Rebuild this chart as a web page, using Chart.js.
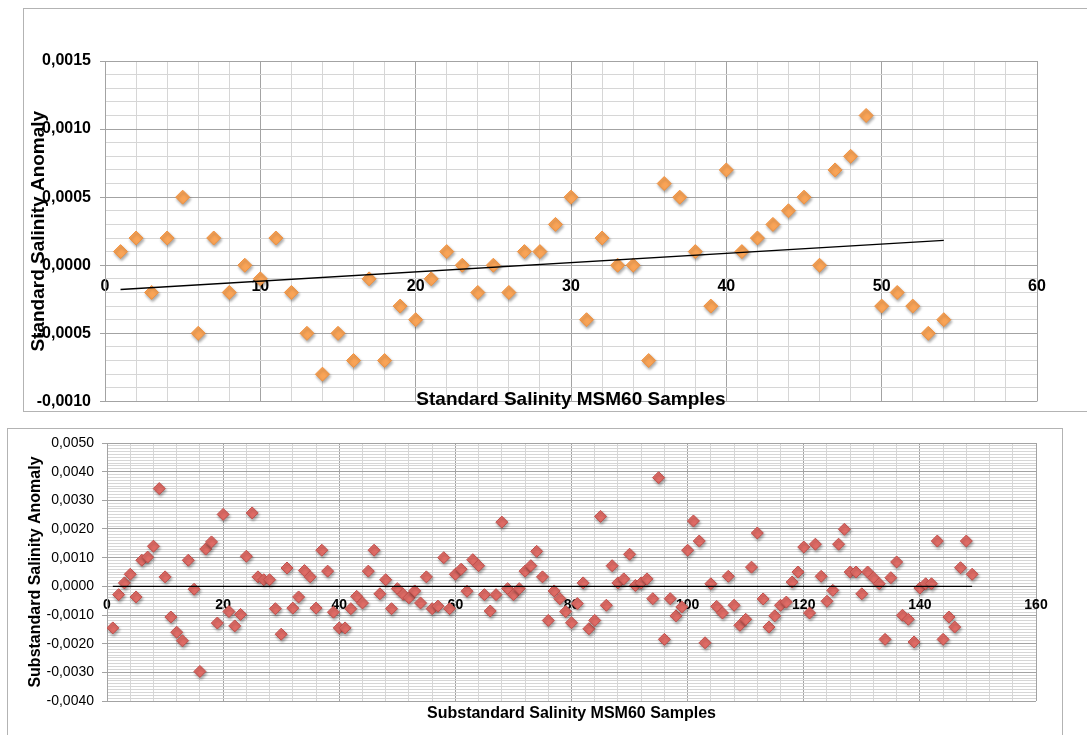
<!DOCTYPE html>
<html>
<head>
<meta charset="utf-8">
<title>MSM60 Salinity Anomaly</title>
<script src="https://cdn.jsdelivr.net/npm/chart.js@4.4.1/dist/chart.umd.min.js"></script>
<style>
  html, body { margin: 0; padding: 0; background: #fff; overflow: hidden; }
  body { width: 1087px; height: 735px; position: relative; }
  .frame { position: absolute; border: 1px solid #b3b3b3; box-sizing: border-box; }
  #frameTop { left: 23px; top: 8px; width: 1100px; height: 404px; }
  #frameBottom { left: 7px; top: 428px; width: 1056px; height: 400px; }
  .box { position: absolute; left: 0; width: 1087px; }
  #boxTop { top: 0; height: 420px; }
  #boxBottom { top: 420px; height: 315px; }
</style>
</head>
<body>
<div class="frame" id="frameTop"></div>
<div class="frame" id="frameBottom"></div>
<div class="box" id="boxTop"><canvas id="stdChart"></canvas></div>
<div class="box" id="boxBottom"><canvas id="subChart"></canvas></div>
<script>
// standard seawater runs, anomaly per sample (sample no. = position + 1)
const stdAnomaly = [
  0.0001, 0.0002, -0.0002, 0.0002, 0.0005, -0.0005, 0.0002, -0.0002, 0.0000, -0.0001,
  0.0002, -0.0002, -0.0005, -0.0008, -0.0005, -0.0007, -0.0001, -0.0007, -0.0003, -0.0004,
  -0.0001, 0.0001, 0.0000, -0.0002, 0.0000, -0.0002, 0.0001, 0.0001, 0.0003, 0.0005,
  -0.0004, 0.0002, 0.0000, 0.0000, -0.0007, 0.0006, 0.0005, 0.0001, -0.0003, 0.0007,
  0.0001, 0.0002, 0.0003, 0.0004, 0.0005, 0.0000, 0.0007, 0.0008, 0.0011, -0.0003,
  -0.0002, -0.0003, -0.0005, -0.0004
];
const stdTrendX = [1, 54];
const stdTrendY = [-0.000178, 0.000183];
const stdYTicks = ["-0,0010", "-0,0005", "0,0000", "0,0005", "0,0010", "0,0015"];
const stdXTicks = [0, 10, 20, 30, 40, 50, 60];

// substandard samples
const subAnomaly = [
  -0.00145, -0.00029, 0.00012, 0.00042, -0.00037, 0.00091, 0.00102, 0.00140, 0.00341, 0.00033,
  -0.00107, -0.00160, -0.00190, 0.00091, -0.00010, -0.00297, 0.00130, 0.00155, -0.00128, 0.00251,
  -0.00088, -0.00138, -0.00098, 0.00105, 0.00256, 0.00033, 0.00023, 0.00023, -0.00078, -0.00167,
  0.00064, -0.00076, -0.00037, 0.00055, 0.00033, -0.00076, 0.00126, 0.00053, -0.00090, -0.00145,
  -0.00145, -0.00078, -0.00035, -0.00058, 0.00053, 0.00126, -0.00026, 0.00023, -0.00078, -0.00008,
  -0.00028, -0.00040, -0.00016, -0.00058, 0.00033, -0.00078, -0.00069, 0.00100, -0.00078, 0.00042,
  0.00060, -0.00017, 0.00093, 0.00072, -0.00029, -0.00086, -0.00029, 0.00224, -0.00008, -0.00029,
  -0.00008, 0.00053, 0.00072, 0.00122, 0.00033, -0.00119, -0.00016, -0.00043, -0.00088, -0.00127,
  -0.00060, 0.00012, -0.00148, -0.00119, 0.00244, -0.00066, 0.00072, 0.00012, 0.00026, 0.00112,
  0.00003, 0.00012, 0.00026, -0.00043, 0.00379, -0.00185, -0.00043, -0.00103, -0.00072, 0.00126,
  0.00228, 0.00158, -0.00197, 0.00009, -0.00070, -0.00093, 0.00035, -0.00066, -0.00136, -0.00115,
  0.00067, 0.00186, -0.00044, -0.00142, -0.00103, -0.00066, -0.00055, 0.00015, 0.00050, 0.00137,
  -0.00093, 0.00147, 0.00035, -0.00052, -0.00014, 0.00147, 0.00199, 0.00050, 0.00050, -0.00026,
  0.00050, 0.00030, 0.00009, -0.00185, 0.00030, 0.00085, -0.00101, -0.00115, -0.00194, -0.00006,
  0.00009, 0.00009, 0.00158, -0.00185, -0.00107, -0.00142, 0.00065, 0.00158, 0.00042
];
const subTrendX = [1, 149];
const subTrendY = [0, 0];
const subYTicks = ["-0,0040", "-0,0030", "-0,0020", "-0,0010", "0,0000", "0,0010", "0,0020", "0,0030", "0,0040", "0,0050"];
const subXTicks = [0, 20, 40, 60, 80, 100, 120, 140, 160];

const FONT = '"Liberation Sans", Arial, Helvetica, sans-serif';
const GRID_MINOR = "#d6d6d6";
const GRID_MAJOR = "#a3a3a3";
Chart.defaults.font.family = FONT;

function commaNum(s) {
  return parseFloat(String(s).replace(",", "."));
}

// returns the printed label for a tick value, "" for the minor grid steps
function labelFor(value, labels) {
  const hit = labels.find(l => Math.abs(commaNum(l) - value) < 1e-9);
  return hit === undefined ? "" : String(hit);
}

const markerShadow = {
  id: "markerShadow",
  beforeDatasetDraw(chart, args) {
    if (args.meta.type === "line") return;
    const ctx = chart.ctx;
    ctx.save();
    ctx.shadowColor = "rgba(0,0,0,0.35)";
    ctx.shadowBlur = 3;
    ctx.shadowOffsetX = 1;
    ctx.shadowOffsetY = 2;
  },
  afterDatasetDraw(chart, args) {
    if (args.meta.type === "line") return;
    chart.ctx.restore();
  }
};

// x title sits inside/below the plot, not under the zero-line axis
const xTitle = {
  id: "xTitle",
  afterDraw(chart, args, opts) {
    const { ctx, chartArea } = chart;
    ctx.save();
    ctx.font = `bold ${opts.size}px ${FONT}`;
    ctx.fillStyle = "#000";
    ctx.textAlign = "center";
    ctx.textBaseline = "middle";
    ctx.fillText(opts.text, (chartArea.left + chartArea.right) / 2, chartArea.bottom + opts.offset);
    ctx.restore();
  }
};

function makeChart(id, s) {
  const ctx = document.getElementById(id).getContext("2d");
  return new Chart(ctx, {
    type: "scatter",
    data: {
      datasets: [
        {
          type: "line",
          data: s.trendX.map((x, i) => ({ x, y: s.trendY[i] })),
          borderColor: "#000",
          borderWidth: 1.3,
          pointRadius: 0,
          showLine: true,
          fill: false,
          tension: 0
        },
        {
          data: s.values.map((y, i) => ({ x: i + 1, y })),
          pointStyle: "rectRot",
          pointRadius: s.radius,
          backgroundColor: s.fill,
          borderColor: s.edge,
          borderWidth: 1
        }
      ]
    },
    options: {
      responsive: true,
      maintainAspectRatio: false,
      animation: false,
      events: [],
      layout: { padding: s.padding },
      plugins: {
        legend: { display: false },
        tooltip: { enabled: false },
        xTitle: { text: s.xTitle, size: s.xTitleSize, offset: s.xTitleOffset }
      },
      scales: {
        x: {
          type: "linear",
          position: { y: 0 },
          min: 0,
          max: s.xMax,
          afterFit: sc => { sc.height = 0; },
          border: { display: false },
          grid: {
            color: c => labelFor(c.tick.value, s.xTicks) !== "" ? GRID_MAJOR : GRID_MINOR,
            drawTicks: false
          },
          ticks: {
            stepSize: s.xStep,
            autoSkip: false,
            maxRotation: 0,
            minRotation: 0,
            padding: s.xTickPad,
            color: "#000",
            font: { size: s.xTickSize, weight: "bold" },
            callback: v => labelFor(v, s.xTicks)
          }
        },
        y: {
          min: s.yMin,
          max: s.yMax,
          afterFit: sc => { sc.width = s.yWidth; },
          border: { color: GRID_MAJOR },
          title: {
            display: true,
            text: s.yTitle,
            color: "#000",
            font: { size: s.yTitleSize, weight: "bold" },
            padding: { top: s.yTitlePad, bottom: 0 }
          },
          grid: {
            color: c => labelFor(c.tick.value, s.yTicks) !== "" ? GRID_MAJOR : GRID_MINOR,
            tickColor: c => labelFor(c.tick.value, s.yTicks) !== "" ? GRID_MAJOR : "rgba(0,0,0,0)",
            tickLength: 5
          },
          ticks: {
            stepSize: 0.0001,
            autoSkip: false,
            padding: s.yTickPad,
            color: "#000",
            font: { size: s.yTickSize, weight: s.yTickWeight },
            callback: v => labelFor(v, s.yTicks)
          }
        }
      }
    },
    plugins: [markerShadow, xTitle]
  });
}

makeChart("stdChart", {
  values: stdAnomaly, trendX: stdTrendX, trendY: stdTrendY,
  xTicks: stdXTicks, yTicks: stdYTicks,
  xMax: 60, xStep: 2, yMin: -0.001, yMax: 0.0015,
  radius: 7, fill: "#f9a457", edge: "#f0913f",
  padding: { left: 0, top: 61, right: 50, bottom: 18 },
  yWidth: 105, yTickPad: 9, yTickSize: 16, yTickWeight: "bold",
  xTickPad: 12, xTickSize: 16,
  yTitle: "Standard Salinity Anomaly", yTitleSize: 19, yTitlePad: 27,
  xTitle: "Standard Salinity MSM60 Samples", xTitleSize: 19, xTitleOffset: -2
});

makeChart("subChart", {
  values: subAnomaly, trendX: subTrendX, trendY: subTrendY,
  xTicks: subXTicks, yTicks: subYTicks,
  xMax: 160, xStep: 4, yMin: -0.004, yMax: 0.005,
  radius: 6, fill: "#e06c66", edge: "#c24f4b",
  padding: { left: 0, top: 23, right: 51, bottom: 34 },
  yWidth: 107, yTickPad: 8, yTickSize: 14, yTickWeight: "normal",
  xTickPad: 10, xTickSize: 14,
  yTitle: "Substandard Salinity Anomaly", yTitleSize: 16, yTitlePad: 26,
  xTitle: "Substandard Salinity MSM60 Samples", xTitleSize: 16, xTitleOffset: 13
});
</script>
</body>
</html>
